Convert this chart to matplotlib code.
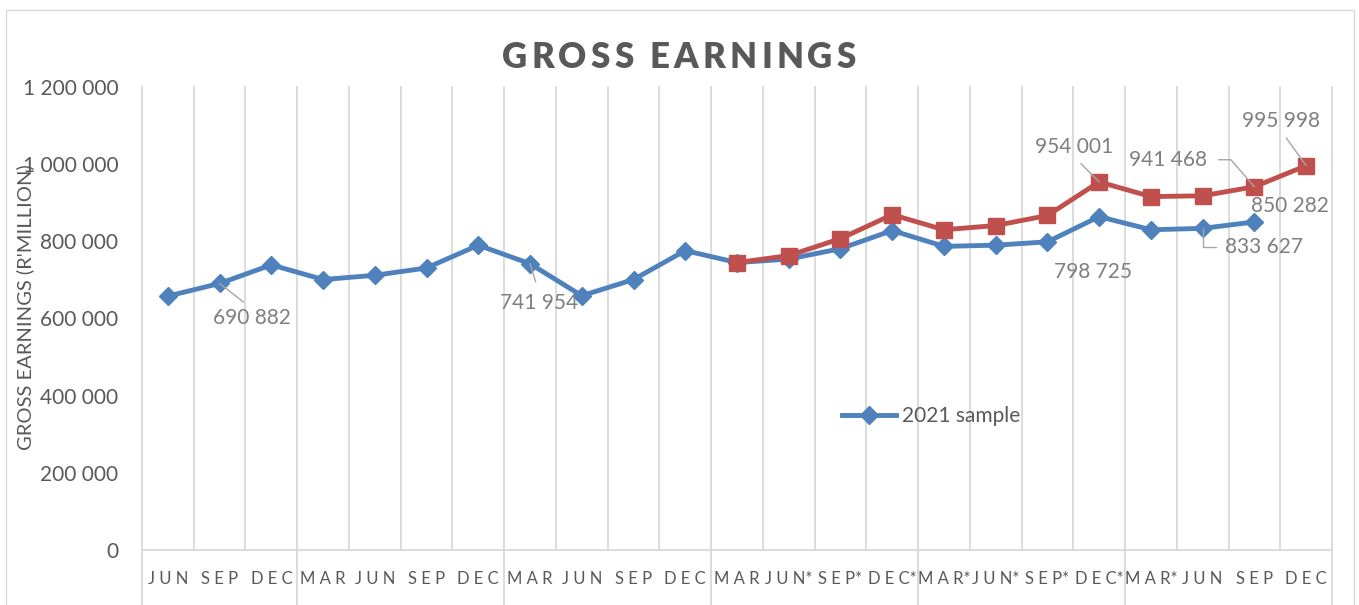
import matplotlib
matplotlib.use('Agg')
import matplotlib.pyplot as plt
import numpy as np
from matplotlib.patches import Rectangle
from matplotlib.transforms import blended_transform_factory

plt.rcParams['font.family'] = ['Lato', 'DejaVu Sans']

# ---------------- data ----------------
categories = ["JUN", "SEP", "DEC", "MAR", "JUN", "SEP", "DEC", "MAR", "JUN", "SEP", "DEC", "MAR",
              "JUN*", "SEP*", "DEC*", "MAR*", "JUN*", "SEP*", "DEC*", "MAR*", "JUN", "SEP", "DEC"]
sample_2021 = [658000, 690882, 739000, 701000, 712000, 731000, 790000, 741954, 659000, 701000,
               776000, 745000, 754000, 781000, 828000, 787000, 790000, 798725, 864000, 830000,
               833627, 850282]
revised = [None] * 11 + [745000, 763000, 807000, 869000, 830000, 841000, 867000, 954001,
                         916000, 918000, 941468, 995998]
y_ticks = [0, 200000, 400000, 600000, 800000, 1000000, 1200000]

title = "GROSS EARNINGS"
y_label = "GROSS EARNINGS (R'MILLION)"
legend_label = "2021 sample"

BLUE = '#4f81bd'
RED = '#c0504d'
TXT = '#595959'
ANN = '#7f7f7f'
GRID = '#d9d9d9'

W, H = 1359, 605
fig = plt.figure(figsize=(W / 100, H / 100), dpi=100)
L, R, T, B = 142, 1332, 87, 550
ax = fig.add_axes([L / W, 1 - B / H, (R - L) / W, (B - T) / H])

n = len(categories)
x = np.arange(n)
blue_line, = ax.plot(x[:len(sample_2021)], sample_2021, color=BLUE, lw=3.5, marker='D', ms=9,
                     label=legend_label, zorder=3, solid_joinstyle='round')
rx = [i for i, v in enumerate(revised) if v is not None]
ry = [v for v in revised if v is not None]
ax.plot(rx, ry, color=RED, lw=3.5, marker='s', ms=12, zorder=4, solid_joinstyle='round')

ax.set_xlim(-0.5, n - 0.5)
ax.set_ylim(y_ticks[0], y_ticks[-1])
ax.set_yticks(y_ticks)
ax.set_yticklabels([f"{v:,.0f}".replace(",", " ") for v in y_ticks])


def spaced(lbl):
    base = lbl.rstrip('*')
    return " ".join(base) + ("*" if lbl.endswith('*') else "")


ax.set_xticks(x)
ax.set_xticklabels([spaced(c) for c in categories])
ax.tick_params(axis='both', length=0, colors=TXT)
ax.tick_params(axis='y', labelsize=15, pad=17)
ax.tick_params(axis='x', labelsize=12, pad=15)
for s in ['left', 'right', 'top']:
    ax.spines[s].set_visible(False)
ax.spines['bottom'].set_color(GRID)
ax.spines['bottom'].set_linewidth(1.3)

trans = blended_transform_factory(ax.transData, ax.transAxes)
for b in np.arange(n + 1) - 0.5:
    ax.plot([b, b], [0, 1], transform=trans, color=GRID, lw=1.3, clip_on=False, zorder=1)
seps = [-0.5] + [i - 0.5 for i, c in enumerate(categories) if c.startswith("MAR")] + [n - 0.5]
for b in seps:
    ax.plot([b, b], [-0.2, 0], transform=trans, color=GRID, lw=1.3, clip_on=False, zorder=1)

# chart border
fig.add_artist(Rectangle((6 / W, -0.05), (1354 - 6) / W, 1.05 - 10 / H, transform=fig.transFigure,
                         fill=False, ec=GRID, lw=1.0))


# letter-spaced title drawn char by char to a target width
def tracked_text(s, cx, cy, target_w, **kw):
    renderer = fig.canvas.get_renderer()
    widths = []
    for ch in s:
        if ch == ' ':
            t = fig.text(0, 0, 'a a', **kw)
            w_sp = t.get_window_extent(renderer).width
            t.remove()
            t = fig.text(0, 0, 'aa', **kw)
            w_sp -= t.get_window_extent(renderer).width
            t.remove()
            widths.append(w_sp)
        else:
            t = fig.text(0, 0, ch, **kw)
            widths.append(t.get_window_extent(renderer).width)
            t.remove()
    natural = sum(widths)
    track = (target_w - natural) / (len(s) - 1)
    xpos = cx - target_w / 2
    for ch, w in zip(s, widths):
        if ch != ' ':
            fig.text(xpos / W, 1 - cy / H, ch, ha='left', va='center', **kw)
        xpos += w + track


tracked_text(title, 679, 57, 354, fontsize=25, fontweight='heavy', color=TXT)

ax.text(-(L - 25) / (R - L), (B - 307) / (B - T), y_label, rotation=90, transform=ax.transAxes,
        ha='center', va='center', fontsize=14.5, color=TXT)

ax.legend(handles=[blue_line], loc='center', bbox_to_anchor=(0.663, 0.289), frameon=False,
          fontsize=15, handlelength=2.6, handletextpad=0.3, labelcolor=TXT)

# data labels: (series values, index, dx px, dy px, leader style)
LEAD = dict(arrowstyle='-', color='#a6a6a6', lw=1.0, shrinkB=0)
annos = [
    (sample_2021, 1, 32, -35, dict(relpos=(0.5, 1), shrinkA=4)),
    (sample_2021, 7, 9, -39, dict(relpos=(0.5, 1), shrinkA=6)),
    (sample_2021, 17, 46, -30, None),
    (sample_2021, 20, 61, -19, dict(relpos=(0, 0.5), shrinkA=4,
                                    connectionstyle="angle,angleA=0,angleB=90,rad=0")),
    (sample_2021, 21, 36, 16, None),
    (revised, 18, -25, 35, dict(relpos=(0.5, 0), shrinkA=4)),
    (revised, 21, -86, 27, dict(relpos=(1, 0.5), shrinkA=6,
                                connectionstyle="angle,angleA=0,angleB=131,rad=0")),
    (revised, 22, -25, 45, dict(relpos=(0.5, 0), shrinkA=4)),
]
for series, i, dx, dy, lead in annos:
    v = series[i]
    kw = {}
    if lead is not None:
        ap = dict(LEAD)
        ap.update(lead)
        kw['arrowprops'] = ap
    ax.annotate(f"{v:,.0f}".replace(",", " "), xy=(i, v), xytext=(dx, dy), textcoords='offset pixels',
                ha='center', va='center', fontsize=15, color=ANN, zorder=5, **kw)

fig.savefig('out.png', dpi=100)
